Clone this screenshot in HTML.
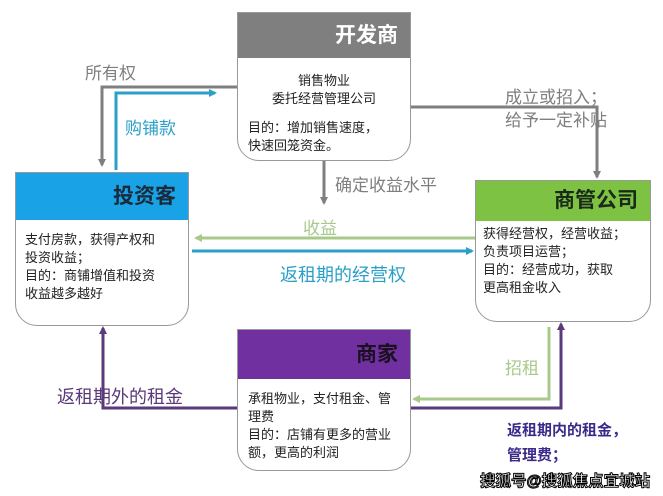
<!DOCTYPE html>
<html><head><meta charset="utf-8"><style>
body{margin:0;width:663px;height:496px;background:#fff;position:relative;overflow:hidden;font-family:"Liberation Sans","Noto Sans CJK SC",sans-serif;}
.a{position:absolute;white-space:nowrap}
.box{position:absolute;border:1.5px solid #999;border-radius:0 0 22px 22px;background:#fff;box-sizing:border-box}
.hd{position:absolute;left:0;right:0;top:0;font-weight:bold;font-size:21px;text-align:right;padding-right:12px;box-sizing:border-box}
.t{position:absolute;font-size:13px;color:#222;line-height:18px;white-space:nowrap}
</style></head><body>
<svg width="663" height="496" style="position:absolute;left:0;top:0">
<defs>
<marker id="mg" markerWidth="8" markerHeight="8" refX="6" refY="4" orient="auto" markerUnits="userSpaceOnUse"><path d="M0,0 L8,4 L0,8z" fill="#7f7f7f"/></marker>
<marker id="mb" markerWidth="8" markerHeight="8" refX="6" refY="4" orient="auto" markerUnits="userSpaceOnUse"><path d="M0,0 L8,4 L0,8z" fill="#2aa0c8"/></marker>
<marker id="mgr" markerWidth="8" markerHeight="8" refX="6" refY="4" orient="auto" markerUnits="userSpaceOnUse"><path d="M0,0 L8,4 L0,8z" fill="#a9c98a"/></marker>
<marker id="mp" markerWidth="8" markerHeight="8" refX="6" refY="4" orient="auto" markerUnits="userSpaceOnUse"><path d="M0,0 L8,4 L0,8z" fill="#5a3a7a"/></marker>
</defs>
<g fill="none" stroke-width="3">
<polyline points="237,87 102,87 102,165" stroke="#7f7f7f" marker-end="url(#mg)"/>
<polyline points="116,170 116,93 215,93" stroke="#2aa0c8" marker-end="url(#mb)"/>
<polyline points="410,107 597,107 597,177" stroke="#7f7f7f" marker-end="url(#mg)"/>
<line x1="324" y1="161" x2="324" y2="203" stroke="#7f7f7f" marker-end="url(#mg)"/>
<line x1="475" y1="238" x2="196" y2="238" stroke="#a9c98a" marker-end="url(#mgr)"/>
<line x1="192" y1="251" x2="472" y2="251" stroke="#2aa0c8" marker-end="url(#mb)"/>
<polyline points="549,327 549,399 414,399" stroke="#a9c98a" marker-end="url(#mgr)"/>
<polyline points="410,408 561,408 561,324" stroke="#5a3a7a" marker-end="url(#mp)"/>
<polyline points="237,408 103,408 103,328" stroke="#5a3a7a" marker-end="url(#mp)"/>
</g>
</svg>

<div class="box" style="left:237px;top:12px;width:174px;height:149px">
<div class="hd" style="height:45px;line-height:45px;background:#7f7f7f;color:#fff">开发商</div>
<div class="t" style="left:0;right:0;text-align:center;top:59px">销售物业<br>委托经营管理公司</div>
<div class="t" style="left:10px;top:106px">目的：增加销售速度，<br>快速回笼资金。</div>
</div>

<div class="box" style="left:15px;top:172px;width:174px;height:154px">
<div class="hd" style="height:47px;line-height:47px;background:#19a3e6;color:#1a2a3a">投资客</div>
<div class="t" style="left:9px;top:58px">支付房款，获得产权和<br>投资收益；<br>目的：商铺增值和投资<br>收益越多越好</div>
</div>

<div class="box" style="left:475px;top:180px;width:176px;height:142px">
<div class="hd" style="height:40px;line-height:40px;background:#7dc242;color:#1a2a1a">商管公司</div>
<div class="t" style="left:7px;top:44px">获得经营权，经营收益；<br>负责项目运营；<br>目的：经营成功，获取<br>更高租金收入</div>
</div>

<div class="box" style="left:237px;top:329px;width:174px;height:142px">
<div class="hd" style="height:49px;line-height:49px;background:#7030a0;color:#1a1020">商家</div>
<div class="t" style="left:10px;top:60px">承租物业，支付租金、管<br>理费<br>目的：店铺有更多的营业<br>额，更高的利润</div>
</div>

<div class="a" style="left:85px;top:59px;font-size:17px;color:#7f7f7f">所有权</div>
<div class="a" style="left:125px;top:114px;font-size:17px;color:#2aa0c8">购铺款</div>
<div class="a" style="left:505px;top:86px;font-size:17px;color:#7f7f7f;line-height:23px">成立或招入；<br>给予一定补贴</div>
<div class="a" style="left:335px;top:171px;font-size:17px;color:#7f7f7f">确定收益水平</div>
<div class="a" style="left:303px;top:214px;font-size:17px;color:#a9c98a">收益</div>
<div class="a" style="left:280px;top:261px;font-size:18px;color:#2aa0c8">返租期的经营权</div>
<div class="a" style="left:505px;top:354px;font-size:17px;color:#a9c98a">招租</div>
<div class="a" style="left:57px;top:383px;font-size:18px;color:#5a3a7a">返租期外的租金</div>
<div class="a" style="left:507px;top:419px;font-size:15px;font-weight:bold;color:#3b2a8a">返租期内的租金，</div>
<div class="a" style="left:507px;top:444px;font-size:15px;font-weight:bold;color:#3b2a8a">管理费；</div>
<div class="a" style="left:480px;top:469px;font-size:15.5px;font-weight:bold;color:#fff;-webkit-text-stroke:1px #000">搜狐号@搜狐焦点宜城站</div>
</body></html>
